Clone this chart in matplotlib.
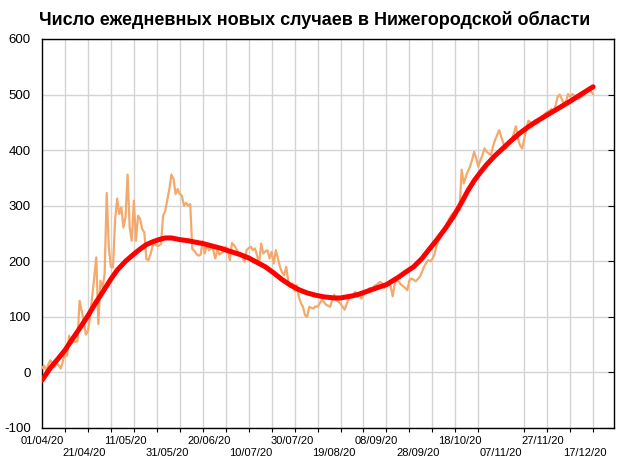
import matplotlib
matplotlib.use('Agg')
import matplotlib.pyplot as plt
from matplotlib.ticker import MultipleLocator, FixedLocator, FixedFormatter
import numpy as np

plt.rcParams['font.family'] = ['Liberation Sans', 'DejaVu Sans']
plt.rcParams['axes.unicode_minus'] = False

# daily new cases, starting 01/04/20
daily_cases = [
    8, 12, 4, 14, 22, 15, 10, 16, 13, 7, 20,
    34, 30, 66, 52, 57, 55, 56, 129, 111, 93, 68,
    75, 100, 135, 170, 207, 87, 165, 153, 177, 323, 225,
    190, 189, 273, 313, 285, 297, 261, 279, 356, 261, 237,
    309, 237, 282, 276, 258, 252, 204, 202, 213, 228, 231,
    228, 228, 231, 282, 290, 310, 330, 356, 348, 321, 330,
    321, 318, 300, 305, 300, 303, 222, 219, 213, 210, 212,
    236, 214, 232, 220, 224, 221, 205, 220, 212, 215, 217,
    226, 220, 202, 233, 229, 223, 216, 214, 208, 199, 220,
    224, 226, 220, 223, 211, 196, 232, 214, 218, 220, 205,
    217, 196, 220, 205, 190, 180, 175, 190, 163, 154, 160,
    146, 157, 136, 125, 118, 103, 100, 118, 116, 115, 119,
    118, 124, 130, 127, 122, 120, 118, 130, 140, 130, 127,
    124, 118, 113, 124, 133, 136, 139, 145, 136, 142, 133,
    140, 145, 148, 152, 150, 155, 157, 160, 163, 160, 152,
    160, 158, 155, 137, 160, 166, 163, 158, 155, 152, 148,
    166, 169, 167, 164, 168, 172, 181, 190, 197, 202, 200,
    204, 212, 228, 238, 244, 253, 260, 268, 276, 283, 287,
    289, 290, 292, 365, 340, 352, 362, 370, 382, 397, 385,
    370, 382, 391, 403, 397, 394, 391, 406, 418, 427, 436,
    424, 412, 403, 409, 415, 420, 430, 443, 420, 409, 403,
    420, 439, 453, 450, 448, 453, 448, 453, 459, 462, 466,
    469, 470, 474, 469, 480, 496, 500, 492, 483, 487, 501,
    496, 501, 498, 496, 492, 495, 498, 501, 505, 508, 505,
    501,
]

# smoothed trend, read at selected days
trend_days = [0, 4, 8, 11, 14, 18, 22, 26, 30, 33, 36, 40, 44, 47, 50, 53, 56,
              59, 62, 66, 70, 74, 77, 82, 86, 90, 95, 99, 103, 107, 111, 115,
              119, 123, 127, 131, 135, 140, 143, 146, 149, 152, 155, 158, 161,
              165, 168, 171, 174, 178, 182, 186, 189, 193, 197, 201, 204, 207,
              210, 213, 217, 221, 225, 229, 233, 237, 241, 245, 249, 253, 258,
              264]
trend_values = [-14, 8, 26, 40, 57, 79, 102, 127, 150, 168, 184, 200, 213, 222,
                230, 235, 239, 242, 242, 239, 237, 234, 232, 227, 223, 218, 212,
                206, 198, 190, 179, 167, 157, 149, 143, 139, 136, 134, 134, 136,
                138, 141, 145, 149, 153, 158, 165, 172, 180, 190, 205, 224, 238,
                258, 280, 306, 327, 345, 360, 374, 390, 404, 418, 431, 442, 452,
                461, 470, 479, 488, 500, 514]

tick_labels = ['01/04/20', '21/04/20', '11/05/20', '31/05/20', '20/06/20',
               '10/07/20', '30/07/20', '19/08/20', '08/09/20', '28/09/20',
               '18/10/20', '07/11/20', '27/11/20', '17/12/20']

days = np.arange(len(daily_cases))

fig = plt.figure(figsize=(6.24, 4.68), dpi=100)
ax = fig.add_axes([42 / 624, 1 - 428 / 468, (614 - 42) / 624, (428 - 39) / 468])

ax.plot(days, daily_cases, color='#f4a96c', linewidth=1.6, zorder=3)
ax.plot(trend_days, trend_values, color='#ff0000', linewidth=3.6,
        solid_capstyle='round', solid_joinstyle='round', zorder=4)

ax.set_xlim(0, 274)
ax.set_ylim(-100, 600)

# gridlines every 11 days, labels every 20 days on two rows
ax.xaxis.set_minor_locator(MultipleLocator(11))
ax.xaxis.set_major_locator(FixedLocator([20 * i for i in range(len(tick_labels))]))
labels = [lab if i % 2 == 0 else '\n' + lab for i, lab in enumerate(tick_labels)]
ax.xaxis.set_major_formatter(FixedFormatter(labels))
ax.tick_params(axis='x', which='major', length=0, pad=6, labelsize=8)
ax.tick_params(axis='x', which='minor', length=3, width=0.8, color='black')
ax.grid(True, which='minor', axis='x', color='#d4d4d4', linewidth=1)

ax.yaxis.set_major_locator(MultipleLocator(100))
ax.tick_params(axis='y', which='major', left=False, right=True, direction='in',
               length=4, width=0.8, labelsize=9.5, pad=8)
ax.grid(True, which='major', axis='y', color='#d4d4d4', linewidth=1)
ax.set_axisbelow(True)

for s in ax.spines.values():
    s.set_linewidth(1.0)
    s.set_color('black')

fig.text(0.505, 1 - 20 / 468, 'Число ежедневных новых случаев в Нижегородской области',
         ha='center', va='center', fontsize=13, fontweight='bold')

fig.savefig('out.png', dpi=100)
